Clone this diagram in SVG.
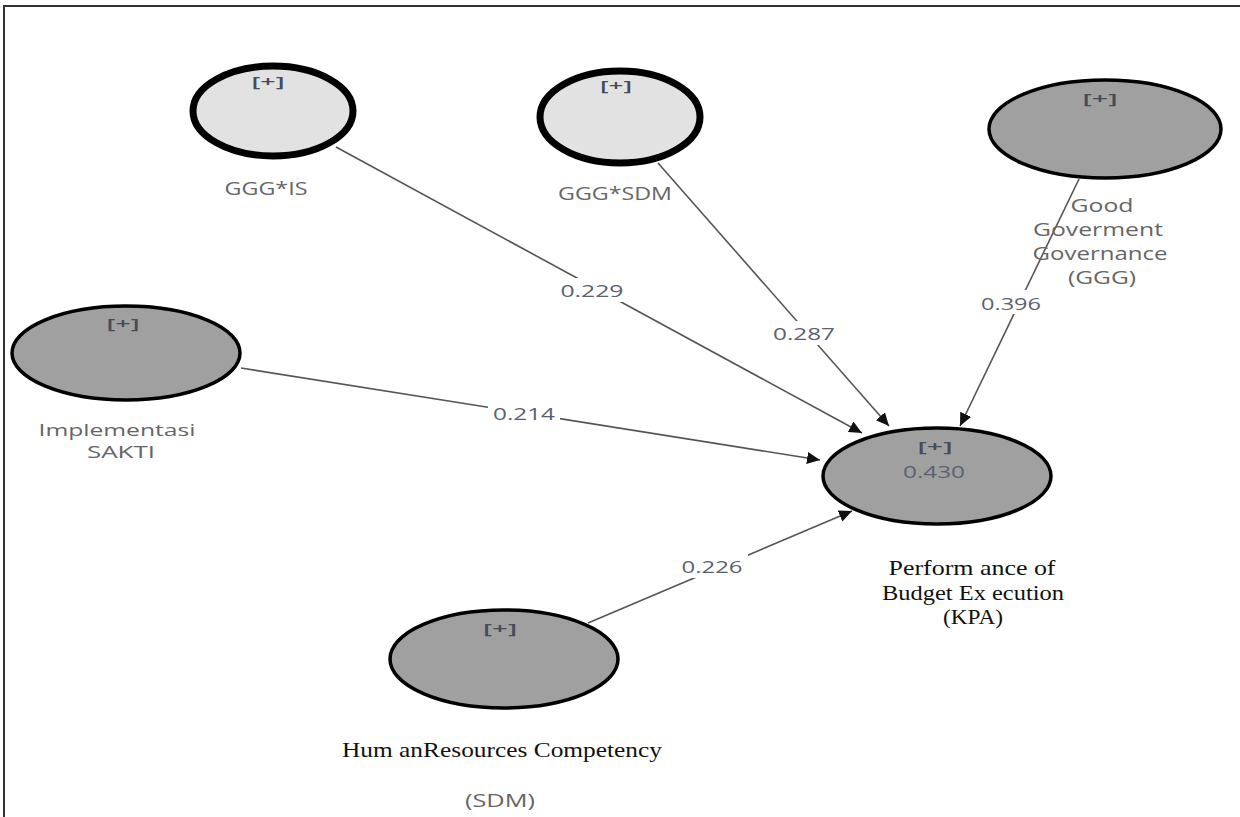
<svg xmlns="http://www.w3.org/2000/svg" width="1240" height="817" viewBox="0 0 1240 817">
<defs>
<marker id="arr" markerUnits="userSpaceOnUse" markerWidth="14" markerHeight="12" refX="13" refY="6" orient="auto">
<path d="M0,0 L13,6 L0,12 Z" fill="#111"/>
</marker>
<style>
.lt{fill:#e2e2e2;stroke:#000;stroke-width:7}
.dk{fill:#a0a0a0;stroke:#000;stroke-width:3.5}
.pl{font-family:"Open Sans","DejaVu Sans",sans-serif;font-size:15px;font-weight:600;fill:#444c58;text-anchor:middle}
.nl{font-family:"Open Sans","DejaVu Sans",sans-serif;font-size:18px;fill:#666;text-anchor:middle}
.vl{font-family:"Open Sans","DejaVu Sans",sans-serif;font-size:17px;fill:#5a6170;text-anchor:middle}
.sf{font-family:"Liberation Serif","Times New Roman",serif;font-size:22px;fill:#111;text-anchor:middle}
.cn{stroke:#555;stroke-width:1.6;fill:none;marker-end:url(#arr)}
.bg{fill:#fff}
</style>
</defs>
<rect width="1240" height="817" fill="#fff"/>
<path d="M4,817 V6 H1240" fill="none" stroke="#333" stroke-width="2"/>

<g id="connectors">
<line class="cn" x1="336" y1="147" x2="862" y2="433"/>
<line class="cn" x1="658" y1="163" x2="889" y2="426"/>
<line class="cn" x1="1079" y1="179" x2="960" y2="426"/>
<line class="cn" x1="241" y1="368" x2="820" y2="460"/>
<line class="cn" x1="588" y1="623" x2="852" y2="511"/>
<rect class="bg" x="556" y="278" width="72" height="24"/>
<text class="vl" x="592" y="297" textLength="63" lengthAdjust="spacingAndGlyphs">0.229</text>
<rect class="bg" x="768" y="321" width="72" height="24"/>
<text class="vl" x="804" y="340" textLength="62" lengthAdjust="spacingAndGlyphs">0.287</text>
<rect class="bg" x="976" y="290" width="68" height="24"/>
<text class="vl" x="1011" y="310" textLength="60" lengthAdjust="spacingAndGlyphs">0.396</text>
<rect class="bg" x="488" y="400" width="72" height="24"/>
<text class="vl" x="524" y="420" textLength="62" lengthAdjust="spacingAndGlyphs">0.214</text>
<rect class="bg" x="676" y="554" width="72" height="24"/>
<text class="vl" x="712" y="573" textLength="61" lengthAdjust="spacingAndGlyphs">0.226</text>
</g>

<g id="node-gggis">
<ellipse class="lt" cx="273" cy="111" rx="80" ry="45"/>
<text class="pl" x="268" y="87" textLength="33" lengthAdjust="spacingAndGlyphs">[+]</text>
<text class="nl" x="266" y="195" textLength="83" lengthAdjust="spacingAndGlyphs">GGG*IS</text>
</g>

<g id="node-gggsdm">
<ellipse class="lt" cx="620" cy="117" rx="80" ry="46"/>
<text class="pl" x="616" y="91" textLength="32" lengthAdjust="spacingAndGlyphs">[+]</text>
<text class="nl" x="615" y="200" textLength="114" lengthAdjust="spacingAndGlyphs">GGG*SDM</text>
</g>

<g id="node-ggg">
<ellipse class="dk" cx="1105" cy="129" rx="116" ry="49"/>
<text class="pl" x="1100" y="104" textLength="35" lengthAdjust="spacingAndGlyphs">[+]</text>
<text class="nl" x="1102" y="212" textLength="63" lengthAdjust="spacingAndGlyphs">Good</text>
<text class="nl" x="1098" y="236" textLength="130" lengthAdjust="spacingAndGlyphs">Goverment</text>
<text class="nl" x="1100" y="260" textLength="135" lengthAdjust="spacingAndGlyphs">Governance</text>
<text class="nl" x="1102" y="284" textLength="68" lengthAdjust="spacingAndGlyphs">(GGG)</text>
</g>

<g id="node-sakti">
<ellipse class="dk" cx="126" cy="353" rx="114" ry="47"/>
<text class="pl" x="123" y="329" textLength="33" lengthAdjust="spacingAndGlyphs">[+]</text>
<text class="nl" style="font-size:16px" x="117" y="436" textLength="157" lengthAdjust="spacingAndGlyphs">Implementasi</text>
<text class="nl" style="font-size:16px" x="121" y="458" textLength="68" lengthAdjust="spacingAndGlyphs">SAKTI</text>
</g>

<g id="node-kpa">
<ellipse class="dk" cx="937" cy="476" rx="114" ry="48"/>
<text class="pl" x="935" y="452" textLength="35" lengthAdjust="spacingAndGlyphs">[+]</text>
<text class="vl" x="934" y="478" textLength="62" lengthAdjust="spacingAndGlyphs">0.430</text>
<text class="sf" x="972" y="575" textLength="167" lengthAdjust="spacingAndGlyphs">Perform ance of</text>
<text class="sf" x="973" y="600" textLength="182" lengthAdjust="spacingAndGlyphs">Budget Ex ecution</text>
<text class="sf" x="973" y="624" textLength="60" lengthAdjust="spacingAndGlyphs">(KPA)</text>
</g>

<g id="node-sdm">
<ellipse class="dk" cx="504" cy="659" rx="114" ry="49"/>
<text class="pl" x="500" y="634" textLength="34" lengthAdjust="spacingAndGlyphs">[+]</text>
<text class="sf" x="502" y="757" textLength="320" lengthAdjust="spacingAndGlyphs">Hum anResources Competency</text>
<text class="nl" x="500" y="807" textLength="70" lengthAdjust="spacingAndGlyphs">(SDM)</text>
</g>
</svg>
